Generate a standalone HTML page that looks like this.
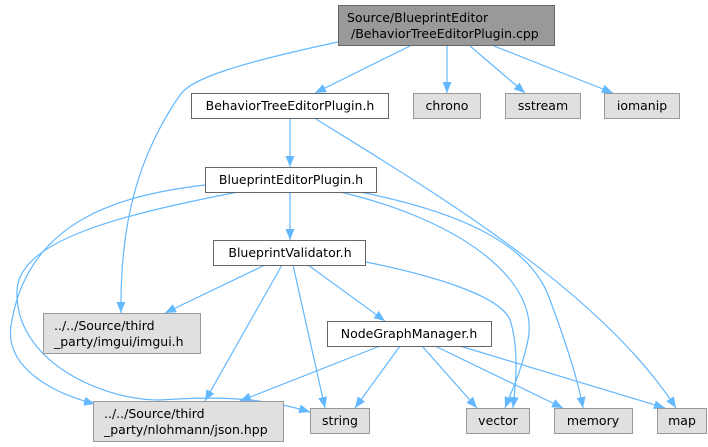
<!DOCTYPE html>
<html><head><meta charset="utf-8"><style>
html,body{margin:0;padding:0;background:#fff;width:708px;height:447px;overflow:hidden}
svg{display:block}
text{font-family:"DejaVu Sans","Liberation Sans",sans-serif;font-size:12.5px;fill:#000}
.e{fill:none;stroke:#63b8ff;stroke-width:1.2}
.w{fill:#fff;stroke:#666;stroke-width:1}
.g{fill:#e0e0e0;stroke:#999;stroke-width:1}
</style></head><body>
<svg width="708" height="447" viewBox="0 0 708 447">
<defs><marker id="a" markerUnits="userSpaceOnUse" markerWidth="12" markerHeight="10" refX="11" refY="5" orient="auto"><path d="M0,0.5 L11,5 L0,9.5 Z" fill="#63b8ff"/></marker></defs>
<g class="e" marker-end="url(#a)">
<path d="M410,46 L315,93"/>
<path d="M447,46 L447,93"/>
<path d="M470,46 L525,93"/>
<path d="M494,46 L613,93"/>
<path d="M338,42 C230,65 190,80 180,95 C135,160 120,230 121,313"/>
<path d="M290,119 L290,167"/>
<path d="M316,119 C430,190 600,290 676,408"/>
<path d="M290,192 L290,240"/>
<path d="M205,185 C120,195 30,220 12,320 C0,370 60,395 95,404"/>
<path d="M238,192 C120,215 20,240 17,290 C14,360 100,400 160,400 C230,395 270,400 310,412"/>
<path d="M340,192 C460,220 540,280 528,340 C522,370 510,395 505,408"/>
<path d="M360,192 C450,210 530,240 550,300 C565,340 578,380 583,408"/>
<path d="M265,265 L165,313"/>
<path d="M282,265 L205,401"/>
<path d="M293,265 L325,408"/>
<path d="M308,265 L385,321"/>
<path d="M366,262 C430,275 500,295 510,320 C520,350 515,390 513,408"/>
<path d="M380,346 L240,401"/>
<path d="M400,346 L355,408"/>
<path d="M422,346 L477,408"/>
<path d="M435,346 L563,408"/>
<path d="M460,346 L665,408"/>
</g>
<rect x="338.5" y="5.5" width="216" height="40" fill="#999" stroke="#666"/>
<text x="347" y="22">Source/BlueprintEditor</text>
<text x="351" y="38">/BehaviorTreeEditorPlugin.cpp</text>
<rect class="w" x="191.5" y="93.5" width="197" height="25"/><text x="290" y="110" text-anchor="middle">BehaviorTreeEditorPlugin.h</text>
<rect class="g" x="413.5" y="93.5" width="67" height="25"/><text x="447" y="110" text-anchor="middle">chrono</text>
<rect class="g" x="505.5" y="93.5" width="75" height="25"/><text x="543" y="110" text-anchor="middle">sstream</text>
<rect class="g" x="604.5" y="93.5" width="75" height="25"/><text x="642" y="110" text-anchor="middle">iomanip</text>
<rect class="w" x="205.5" y="167.5" width="171" height="25"/><text x="291" y="184" text-anchor="middle">BlueprintEditorPlugin.h</text>
<rect class="w" x="213.5" y="240.5" width="152" height="25"/><text x="290" y="257" text-anchor="middle">BlueprintValidator.h</text>
<rect class="g" x="43.5" y="313.5" width="157" height="40"/><text x="54" y="330">../../Source/third</text><text x="54" y="346">_party/imgui/imgui.h</text>
<rect class="w" x="327.5" y="321.5" width="164" height="25"/><text x="409" y="338" text-anchor="middle">NodeGraphManager.h</text>
<rect class="g" x="93.5" y="401.5" width="190" height="40"/><text x="104" y="418">../../Source/third</text><text x="104" y="434">_party/nlohmann/json.hpp</text>
<rect class="g" x="310.5" y="408.5" width="59" height="25"/><text x="340" y="425" text-anchor="middle">string</text>
<rect class="g" x="466.5" y="408.5" width="63" height="25"/><text x="498" y="425" text-anchor="middle">vector</text>
<rect class="g" x="554.5" y="408.5" width="78" height="25"/><text x="593" y="425" text-anchor="middle">memory</text>
<rect class="g" x="657.5" y="408.5" width="49" height="25"/><text x="682" y="425" text-anchor="middle">map</text>
</svg>
</body></html>
